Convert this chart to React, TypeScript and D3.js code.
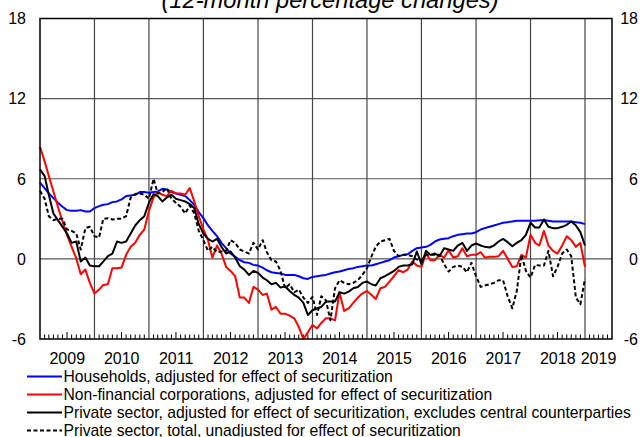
import React from "react";
import * as d3 from "d3";

// monthly observations, Jan 2009 .. Jan 2019
const firstMonth = new Date(2009, 0, 1);

const households = [
  5.7, 5.3, 4.9, 4.55, 4.2, 3.9, 3.65, 3.6, 3.6, 3.65, 3.55, 3.55,
  3.8, 3.95, 4.05, 4.1, 4.25, 4.3, 4.45, 4.7, 4.75, 4.8, 5.0, 5.0,
  4.95, 5.0, 5.05, 5.25, 5.2, 5.0, 4.9, 4.8, 4.7, 4.4, 4.05, 3.5,
  3.05, 2.5, 2.1, 1.7, 1.2, 0.8, 0.4, 0.15, -0.1, -0.25, -0.3, -0.45,
  -0.5, -0.65, -0.85, -1.0, -1.05, -1.1, -1.2, -1.2, -1.2, -1.3, -1.45, -1.5,
  -1.35, -1.3, -1.25, -1.2, -1.1, -1.0, -0.95, -0.85, -0.75, -0.7, -0.6, -0.55,
  -0.5, -0.5, -0.4, -0.3, -0.2, -0.1, 0.1, 0.2, 0.3, 0.35, 0.6, 0.8,
  0.85, 0.9, 1.05, 1.3, 1.45, 1.5, 1.55, 1.7, 1.8, 1.85, 1.9, 1.9,
  2.0, 2.2, 2.3, 2.4, 2.5, 2.6, 2.7, 2.75, 2.8, 2.85, 2.85, 2.85,
  2.85, 2.85, 2.9, 2.9, 2.85, 2.8, 2.8, 2.8, 2.8, 2.8, 2.75, 2.7,
  2.6,
];

const nonFinancial = [
  8.4, 7.3, 6.2, 5.05, 3.9, 2.8, 1.8, 0.9, 0.05, -1.15, -0.8, -1.8,
  -2.6, -2.3, -1.95, -1.9, -0.7, -0.7, -0.65, 0.3, 0.9, 1.2, 1.8, 2.2,
  3.6, 4.6, 5.0, 4.8, 4.7, 5.1, 4.9, 4.9, 4.8, 5.3, 4.3, 3.2,
  2.2, 1.4, 0.1, 1.0, 0.4, -0.6, -0.9, -1.3, -2.9, -2.9, -3.3, -2.1,
  -2.3, -2.7, -2.6, -3.8, -3.6, -4.1, -4.1, -4.25, -4.45, -5.1, -6.0, -5.5,
  -4.95, -5.2, -4.8, -4.45, -4.45, -4.6, -2.5, -3.9, -3.7, -3.3, -2.9, -2.6,
  -2.4, -2.7, -3.0, -2.2, -2.1, -1.7, -1.3, -0.85, -1.0, -0.8, -0.2, -0.5,
  -0.6, 0.4, -0.1, -0.1, 0.3, 0.1, 0.65, 0.1, 0.2, 0.8, 0.2, 0.3,
  0.3, 0.5, 0.1, 0.15, 0.15, 0.2, 0.6, 0.0, -0.6, -0.55, 0.3, 0.1,
  1.8, 1.2, 1.0, 2.1, 1.0, 0.6, 0.4, 1.0, 1.7, 1.4, 0.9, 1.2,
  -0.6,
];

const privateAdjusted = [
  6.7, 6.2, 4.8, 3.4, 2.9, 2.4, 1.9, 1.2, 1.3, -0.2, 0.1, -0.5,
  -0.55, -0.55, -0.2, 0.2, 0.4, 1.3, 1.2, 1.3, 1.9, 2.5, 2.9, 3.2,
  4.2, 4.85, 4.7, 4.3, 4.6, 4.8, 4.5, 4.4, 4.3, 4.1, 3.8, 2.6,
  1.9, 1.5, 1.3, 1.5, 0.9, 0.4, 0.55, 0.1, -0.55, -0.8, -1.2, -0.9,
  -1.05, -1.4, -1.6, -1.9, -1.8, -2.15, -2.05, -2.4, -2.7, -2.9, -3.3, -4.2,
  -3.85, -3.7, -3.6, -3.2, -3.2, -3.2, -2.5, -2.6, -2.45, -2.2, -2.1, -1.8,
  -1.7, -1.9, -2.0, -1.45, -1.3, -1.1, -0.9, -0.6, -0.5, -0.5, -0.4, 0.55,
  -0.4, 0.6, 0.3, 0.4, 0.2, 0.8, 0.7, 0.6, 1.0, 1.2, 0.6, 1.0,
  1.15, 1.0, 0.9, 0.85, 1.0, 1.3, 1.5, 1.25, 0.95, 1.2, 1.4, 1.8,
  2.7, 2.35, 2.35, 2.95, 2.4, 2.3, 2.3, 2.4, 2.55, 2.8, 2.5, 2.0,
  1.0,
];

const privateTotal = [
  5.1, 4.5, 3.2, 2.9, 3.0, 3.0, 2.2, 2.1, 1.9, 0.7, 2.3, 2.4,
  1.7, 1.6, 3.0, 3.05, 2.95, 3.0, 3.0, 3.2, 4.6, 4.85, 4.9, 4.8,
  4.5, 6.0, 4.9, 5.0, 5.3, 4.5, 4.2, 3.9, 3.4, 4.0, 3.4, 2.1,
  1.4, 0.6, 0.9, 0.5, 0.55, 0.6, 1.4, 1.2, 0.7, 0.55, 0.4, 1.2,
  0.7, 1.4, 0.5, -0.1, -0.2, -0.9, -2.2, -1.9, -2.5, -2.3, -2.9, -3.3,
  -2.85, -4.2, -2.8, -3.1, -4.6, -2.2, -1.6, -1.8, -1.9, -1.8, -1.6, -1.2,
  -0.7, 0.2, 0.9, 1.3, 1.4, 1.5, 0.6, 0.2, 0.3, 0.3, 0.2, -0.05,
  -0.1, 0.3, 0.3, 0.3, 0.3, -0.4, -0.95, -0.6, -0.5, -0.6, -1.0, -0.3,
  -1.3, -2.1, -2.0, -1.9, -1.8, -1.6, -1.6, -2.8, -3.7, -2.4, 0.3, -0.9,
  -1.4, -0.45, -0.5, -0.5, 0.6, -1.3, -0.6, 0.4, 0.7, 0.2, -2.9, -3.4,
  -1.5,
];

const yTicks = [-6, 0, 6, 12, 18];
const years = [2009, 2010, 2011, 2012, 2013, 2014, 2015, 2016, 2017, 2018, 2019];

const series = [
  { label: "Households, adjusted for effect of securitization", values: households, color: "#0000ff", dash: "" },
  { label: "Non-financial corporations, adjusted for effect of securitization", values: nonFinancial, color: "#ff0000", dash: "" },
  { label: "Private sector, adjusted for effect of securitization, excludes central counterparties", values: privateAdjusted, color: "#000000", dash: "" },
  { label: "Private sector, total, unadjusted for effect of securitization", values: privateTotal, color: "#000000", dash: "4,2.5" },
];

const W = 644;
const H = 437;
const left = 40;
const right = 612;
const top = 18.5;
const bottom = 339;
const font = "'Liberation Sans', Arial, Helvetica, sans-serif";

export default function App() {
  const domainStart = new Date(2009, 0, 1);
  const domainEnd = new Date(2019, 6, 1);
  const x = d3.scaleTime().domain([domainStart, domainEnd]).range([left, right]);
  const y = d3.scaleLinear().domain([-6, 18]).range([bottom, top]);

  const line = d3
    .line<number>()
    .x((_, i) => x(d3.timeMonth.offset(firstMonth, i)))
    .y((d) => y(d));

  const monthTicks = d3.timeMonth.range(domainStart, domainEnd).filter((d) => d.getMonth() !== 0);
  const yearLines = d3.timeYear.range(new Date(2010, 0, 1), domainEnd);

  return (
    <svg
      width={W}
      height={H}
      style={{ position: "absolute", left: 0, top: 0, background: "#fff" }}
      fontFamily={font}
    >
      <text x={330} y={8} textAnchor="middle" fontSize={23.7} fontStyle="italic" fill="#000">
        (12-month percentage changes)
      </text>

      {/* grid */}
      {yTicks.slice(1, -1).map((t) => (
        <line key={"h" + t} x1={left} x2={right} y1={y(t)} y2={y(t)} stroke="#555" strokeWidth={1.2} />
      ))}
      {yearLines.map((d) => (
        <line key={"v" + d.getFullYear()} x1={x(d)} x2={x(d)} y1={top} y2={bottom} stroke="#444" strokeWidth={1.2} />
      ))}

      {/* month ticks */}
      {monthTicks.map((d, i) => (
        <line
          key={"m" + i}
          x1={x(d)}
          x2={x(d)}
          y1={bottom}
          y2={bottom - (d.getMonth() === 6 ? 7 : 4.5)}
          stroke="#000"
          strokeWidth={1}
        />
      ))}

      {/* series */}
      {series.map((s) => (
        <path
          key={s.label}
          d={line(s.values) ?? ""}
          fill="none"
          stroke={s.color}
          strokeWidth={2}
          strokeDasharray={s.dash}
          strokeLinejoin="round"
        />
      ))}

      {/* frame */}
      <rect x={left} y={top} width={right - left} height={bottom - top} fill="none" stroke="#000" strokeWidth={1.5} />

      {/* y labels both sides */}
      {yTicks.map((t) => (
        <g key={"y" + t}>
          <text x={26} y={y(t)} dy="0.36em" textAnchor="end" fontSize={16} fill="#000">
            {t}
          </text>
          <text x={638} y={y(t)} dy="0.36em" textAnchor="end" fontSize={16} fill="#000">
            {t}
          </text>
        </g>
      ))}

      {/* year labels centred on visible part of each year */}
      {years.map((yr) => {
        const a = Math.max(x(new Date(yr, 0, 1)), left);
        const b = Math.min(x(new Date(yr + 1, 0, 1)), right);
        return (
          <text key={"yr" + yr} x={(a + b) / 2} y={364} textAnchor="middle" fontSize={16} fill="#000">
            {yr}
          </text>
        );
      })}

      {/* legend */}
      {series.map((s, i) => {
        const ly = 376.5 + i * 18;
        return (
          <g key={"lg" + i}>
            <line x1={27} x2={62} y1={ly} y2={ly} stroke={s.color} strokeWidth={2} strokeDasharray={s.dash} />
            <text x={63.5} y={ly} dy="0.36em" fontSize={15.7} fill="#000">
              {s.label}
            </text>
          </g>
        );
      })}
    </svg>
  );
}
